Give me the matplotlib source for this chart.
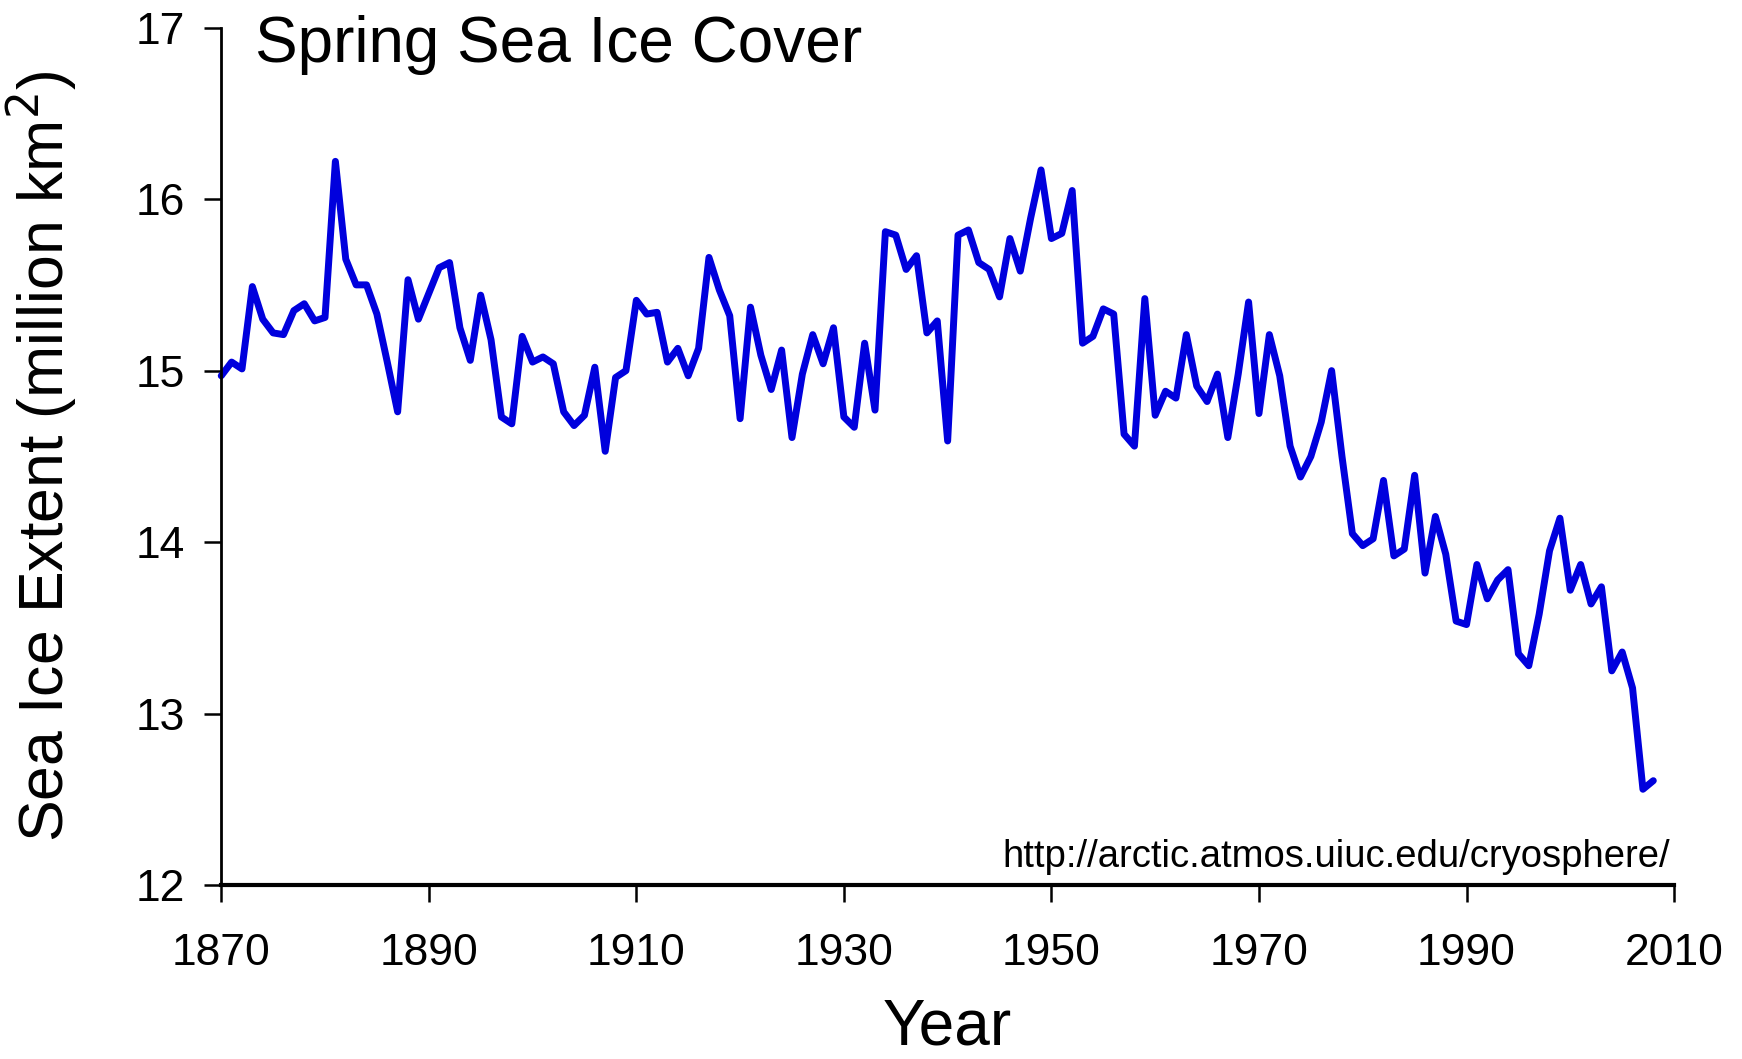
import matplotlib
matplotlib.use("Agg")
import matplotlib.pyplot as plt

plt.rcParams['font.family'] = ['Liberation Sans', 'DejaVu Sans']

# Spring (Mar-May) Northern Hemisphere sea ice extent, million km^2
years = list(range(1870, 2009))
extent = [
    14.97, 15.05, 15.01, 15.49, 15.30, 15.22, 15.21, 15.35, 15.39, 15.29,  # 1870s
    15.31, 16.22, 15.65, 15.50, 15.50, 15.33, 15.05, 14.76, 15.53, 15.30,  # 1880s
    15.45, 15.60, 15.63, 15.25, 15.06, 15.44, 15.18, 14.73, 14.69, 15.20,  # 1890s
    15.05, 15.08, 15.04, 14.76, 14.68, 14.74, 15.02, 14.53, 14.96, 15.00,  # 1900s
    15.41, 15.33, 15.34, 15.05, 15.13, 14.97, 15.13, 15.66, 15.47, 15.32,  # 1910s
    14.72, 15.37, 15.09, 14.89, 15.12, 14.61, 14.98, 15.21, 15.04, 15.25,  # 1920s
    14.73, 14.67, 15.16, 14.77, 15.81, 15.79, 15.59, 15.67, 15.22, 15.29,  # 1930s
    14.59, 15.79, 15.82, 15.63, 15.59, 15.43, 15.77, 15.58, 15.89, 16.17,  # 1940s
    15.77, 15.80, 16.05, 15.16, 15.20, 15.36, 15.33, 14.63, 14.56, 15.42,  # 1950s
    14.74, 14.88, 14.84, 15.21, 14.91, 14.82, 14.98, 14.61, 14.98, 15.40,  # 1960s
    14.75, 15.21, 14.97, 14.56, 14.38, 14.50, 14.70, 15.00, 14.50, 14.05,  # 1970s
    13.98, 14.02, 14.36, 13.92, 13.96, 14.39, 13.82, 14.15, 13.93, 13.54,  # 1980s
    13.52, 13.87, 13.67, 13.78, 13.84, 13.35, 13.28, 13.58, 13.95, 14.14,  # 1990s
    13.72, 13.87, 13.64, 13.74, 13.25, 13.36, 13.15, 12.56, 12.61,        # 2000s
]

xticks = list(range(1870, 2011, 20))
yticks = [12, 13, 14, 15, 16, 17]

fig = plt.figure(figsize=(17.42, 10.59), dpi=100)
ax = fig.add_axes([0.127, 0.164, 0.834, 0.810])

ax.plot(years, extent, color='#0000dd', linewidth=5.0, solid_joinstyle='round',
        solid_capstyle='round', clip_on=False)

ax.set_xlim(1870, 2010)
ax.set_ylim(12, 17)
ax.set_xticks(xticks)
ax.set_yticks(yticks)

ax.spines['top'].set_visible(False)
ax.spines['right'].set_visible(False)
ax.spines['bottom'].set_linewidth(3.0)
ax.spines['left'].set_linewidth(2.0)
ax.tick_params(axis='both', direction='out', length=12, width=1.8, labelsize=32)
ax.tick_params(axis='x', pad=22)
ax.tick_params(axis='y', pad=14)

ax.set_xlabel('Year', fontsize=46, labelpad=17)
ax.set_ylabel('Sea Ice Extent (million km$^2$)', fontsize=45, labelpad=40)

ax.text(0.023, 0.98, 'Spring Sea Ice Cover', transform=ax.transAxes,
        fontsize=46, ha='left', va='center')
ax.text(0.997, 0.033, 'http://arctic.atmos.uiuc.edu/cryosphere/',
        transform=ax.transAxes, fontsize=27.5, ha='right', va='center')

fig.savefig('out.png', dpi=100)
